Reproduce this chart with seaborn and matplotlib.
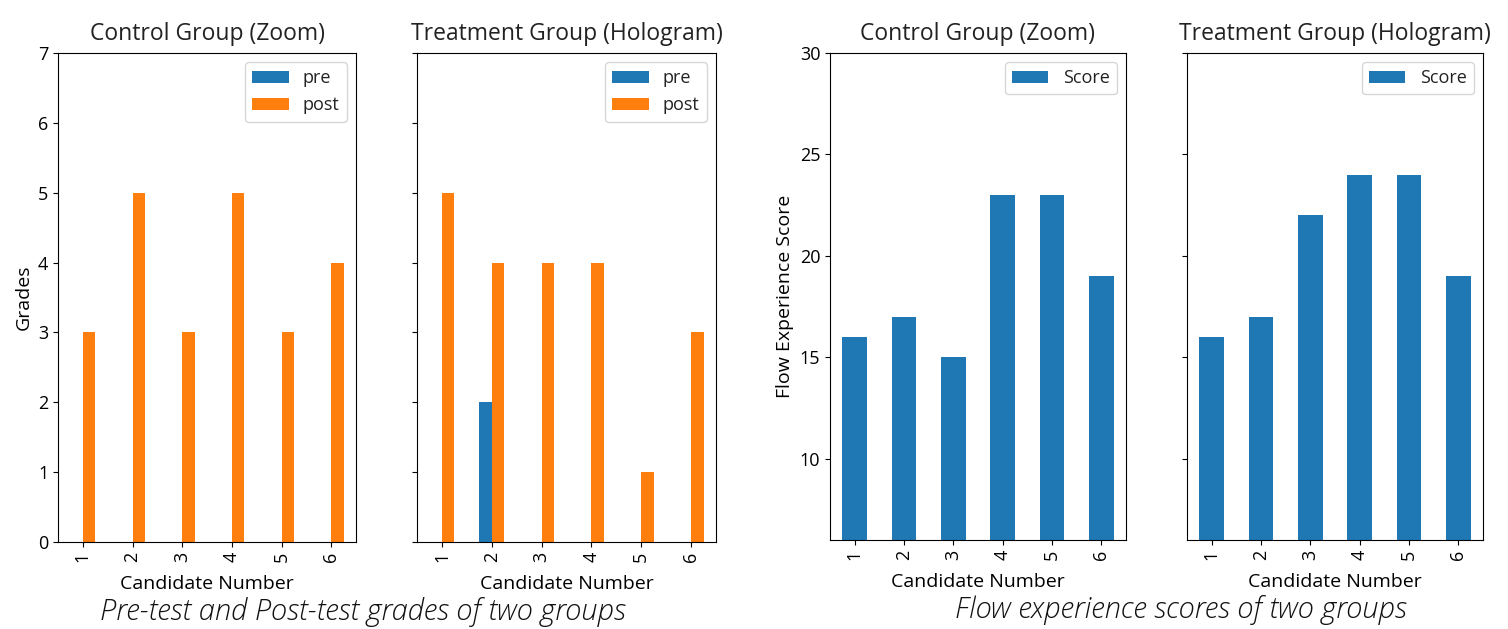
import pandas as pd
import numpy as np
import matplotlib.pyplot as plt
import seaborn as sns

# data
candidates = ["1", "2", "3", "4", "5", "6"]
control_pre = [0, 0, 0, 0, 0, 0]
control_post = [3, 5, 3, 5, 3, 4]
treatment_pre = [0, 2, 0, 0, 0, 0]
treatment_post = [5, 4, 4, 4, 1, 3]
control_flow = [16, 17, 15, 23, 23, 19]
treatment_flow = [16, 17, 22, 24, 24, 19]

BLUE = "#1f77b4"
ORANGE = "#ff7f0e"

plt.rcParams["font.family"] = ["Open Sans", "DejaVu Sans"]
plt.rcParams["font.size"] = 13
plt.rcParams["axes.labelsize"] = 14
plt.rcParams["text.color"] = "#222222"


def grades_df(pre, post):
    d = pd.DataFrame({"Candidate": candidates, "pre": pre, "post": post})
    return d.melt(id_vars="Candidate", var_name="test", value_name="grade")


def flow_df(vals):
    return pd.DataFrame({"Candidate": candidates, "series": "Score", "score": vals})


W, H = 1508, 629
fig = plt.figure(figsize=(W / 100, H / 100), dpi=100)


def box(x0, x1, y0, y1):
    return [x0 / W, 1 - y1 / H, (x1 - x0) / W, (y1 - y0) / H]


ax1 = fig.add_axes(box(58, 356, 53, 542))
ax2 = fig.add_axes(box(417, 716, 53, 542), sharey=ax1)
ax3 = fig.add_axes(box(830, 1126, 53, 540))
ax4 = fig.add_axes(box(1187, 1483, 53, 540), sharey=ax3)

# grades
for ax, pre, post, title in [(ax1, control_pre, control_post, "Control Group (Zoom)"),
                             (ax2, treatment_pre, treatment_post, "Treatment Group (Hologram)")]:
    sns.barplot(data=grades_df(pre, post), x="Candidate", y="grade", hue="test",
                palette={"pre": BLUE, "post": ORANGE}, width=0.5, saturation=1,
                linewidth=0, ax=ax)
    h, l = ax.get_legend_handles_labels()
    ax.legend(h, l, loc="upper right", fontsize=13)
    ax.set_title(title, fontsize=16.5, pad=9)
    ax.set_xlabel("Candidate Number", labelpad=9)
    ax.set_ylabel("")
    ax.set_xlim(-0.5, 5.5)
    ax.tick_params(axis="x", labelrotation=90)

ax1.set_ylim(0, 7)
ax1.set_yticks(range(0, 8))
ax1.set_ylabel("Grades")
ax2.tick_params(axis="y", labelleft=False)

# flow experience
for ax, vals, title in [(ax3, control_flow, "Control Group (Zoom)"),
                        (ax4, treatment_flow, "Treatment Group (Hologram)")]:
    sns.barplot(data=flow_df(vals), x="Candidate", y="score", hue="series",
                palette={"Score": BLUE}, width=0.5, saturation=1,
                linewidth=0, ax=ax)
    h, l = ax.get_legend_handles_labels()
    ax.legend(h, l, loc="upper right", fontsize=13)
    ax.set_title(title, fontsize=16.5, pad=9)
    ax.set_xlabel("Candidate Number", labelpad=9)
    ax.set_ylabel("")
    ax.set_xlim(-0.5, 5.5)
    ax.tick_params(axis="x", labelrotation=90)

ax3.set_ylim(6, 30)
ax3.set_yticks([10, 15, 20, 25, 30])
ax3.set_ylabel("Flow Experience Score")
ax4.tick_params(axis="y", labelleft=False)

# captions
cap = dict(family="Open Sans", style="italic", weight="light", fontsize=21,
           ha="center", va="center", color="#111111")
fig.text(363 / W, 1 - 612 / H, "Pre-test and Post-test grades of two groups", **cap)
fig.text(1181 / W, 1 - 610 / H, "Flow experience scores of two groups", **cap)

fig.savefig("out.png", dpi=100)
